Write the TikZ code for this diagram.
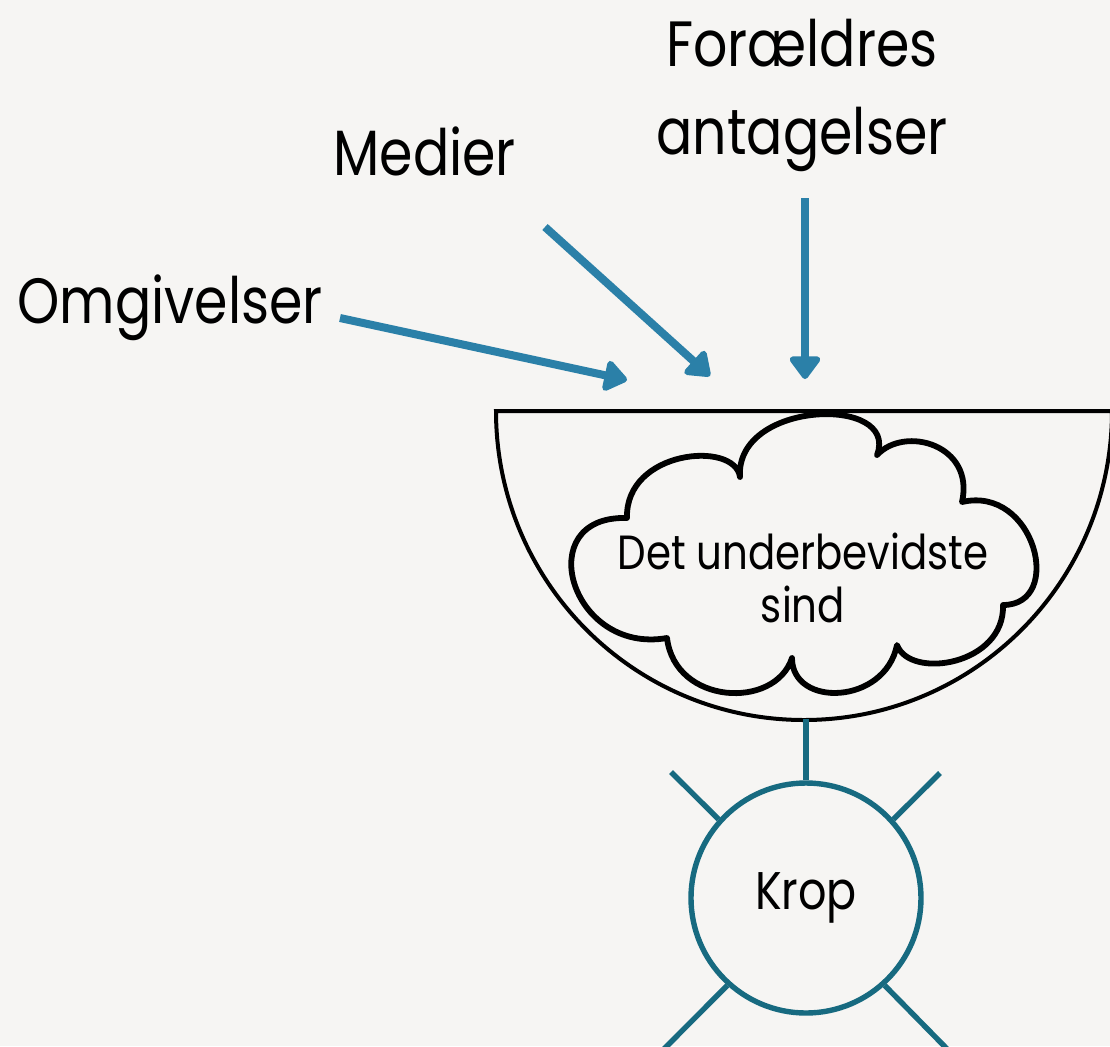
\documentclass[tikz,border=0pt]{standalone}
\usepackage{fontspec}
\setmainfont{Poppins}[FakeStretch=0.84]
\usetikzlibrary{arrows.meta}

\definecolor{bgcol}{HTML}{F6F5F3}
\definecolor{inblue}{HTML}{2B80A8}
\definecolor{bodyteal}{HTML}{176A80}

\tikzset{
    source/.style={inner sep=0pt, font=\fontsize{32}{44}\selectfont},
    inflow/.style={draw=inblue, line width=4pt, -{Triangle[length=12.5pt,width=17.5pt,round]}},
    bodyline/.style={draw=bodyteal, line width=2.7pt},
}

\begin{document}
\begin{tikzpicture}[x=0.5pt,y=-0.5pt]
\useasboundingbox (0,0) rectangle (1110,1046);
\fill[bgcol] (0,0) rectangle (1110,1046);

% sources
\node[source, anchor=base west] (omg) at (17,323) {Omgivelser};
\node[source, anchor=base west] (med) at (333,175) {Medier};
\node[source, anchor=north, align=center] (for) at (802,19) {Forældres\\antagelser};

\coordinate (omgOut) at (340,318);
\coordinate (medOut) at (545,227);
\coordinate (forOut) at (805,198);
\coordinate (in1) at (627,380);
\coordinate (in2) at (710,376);
\coordinate (in3) at (805,379);

\draw[inflow] (omgOut) -- (in1);
\draw[inflow] (medOut) -- (in2);
\draw[inflow] (forOut) -- (in3);

% bowl
\begin{scope}
    \draw[line width=2pt] (1112,411) -- (496,411)
        arc[start angle=180, end angle=0, x radius=308, y radius=309];
    \coordinate (bowlBottom) at (806,719);
\end{scope}

% cloud
\begin{scope}
    \draw[line width=2.9pt, line join=round, fill=bgcol]
        (740,477) .. controls (735,400) and (900,395) .. (877,455)
        .. controls (905,425) and (975,445) .. (962,502)
        .. controls (1035,485) and (1065,605) .. (1003,605)
        .. controls (1005,665) and (910,680) .. (897,645)
        .. controls (885,705) and (792,708) .. (792,658)
        .. controls (775,710) and (675,705) .. (667,638)
        .. controls (570,655) and (530,515) .. (627,518)
        .. controls (625,450) and (735,440) .. (740,477) -- cycle;
    \node[align=center, inner sep=0pt, font=\fontsize{24}{26.5}\selectfont] (mind) at (803,578) {Det underbevidste\\sind};
\end{scope}

% body
\node[circle, bodyline, minimum size=115pt, inner sep=0pt, fill=bgcol,
      font=\fontsize{26.5}{30}\selectfont] (krop) at (806,898) {Krop};
\draw[bodyline] (bowlBottom) -- (krop);

\coordinate (rayNE) at (940,773);
\coordinate (rayNW) at (671,772);
\coordinate (raySW) at (656,1057);
\coordinate (raySE) at (955,1057);
\foreach \a/\p in {42/rayNE, 138/rayNW, 228/raySW, 312/raySE}
    \draw[bodyline] (krop.\a) -- (\p);

\end{tikzpicture}
\end{document}
